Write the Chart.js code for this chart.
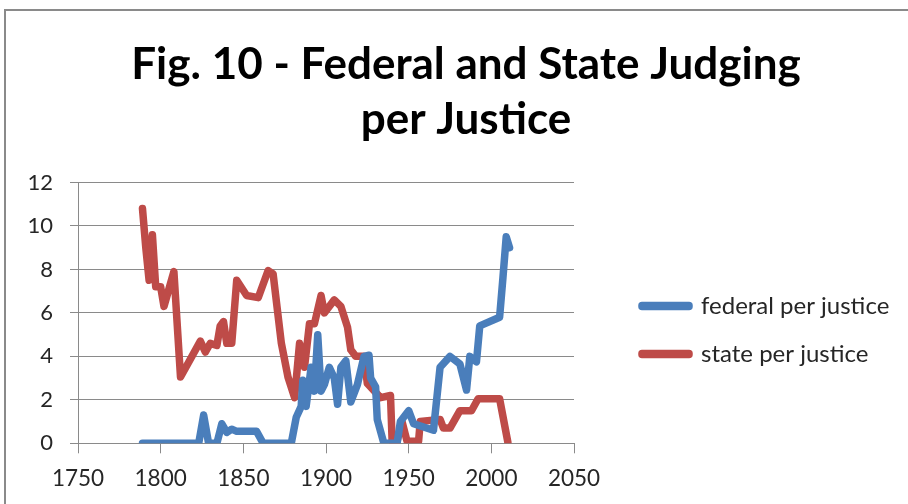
<!DOCTYPE html>
<html>
<head>
<meta charset="utf-8">
<script src="https://cdn.jsdelivr.net/npm/chart.js@4.4.1/dist/chart.umd.min.js"></script>
<style>
  body { margin: 0; overflow: hidden; background: #fff; }
  #box { position: absolute; left: 4px; top: 9px; width: 940px; height: 520px; border: 2px solid #8a8a8a; }
  #myChart { position: absolute; left: 0; top: 0; }
</style>
</head>
<body>
<div id="box"><canvas id="myChart" width="920" height="493"></canvas></div>
<script>
// values
const federalYears = [1789, 1823, 1826, 1829, 1834, 1837, 1840, 1843, 1846, 1858, 1862, 1879, 1882, 1885, 1886, 1888, 1891, 1893, 1895, 1897, 1899, 1902, 1905, 1907, 1909, 1912, 1915, 1919, 1923, 1926, 1927, 1930, 1931, 1935, 1943, 1945, 1950, 1953, 1959, 1965, 1969, 1975, 1981, 1985, 1987, 1991, 1993, 2005, 2007, 2009, 2011]
const federalValues = [0, 0, 1.3, 0, 0, 0.9, 0.5, 0.65, 0.55, 0.55, 0, 0, 1.2, 1.7, 2.9, 1.7, 3.5, 2.4, 5.0, 2.4, 2.7, 3.5, 3.0, 1.8, 3.5, 3.8, 1.9, 2.7, 4.0, 4.05, 3.0, 2.6, 1.1, 0, 0, 1.0, 1.5, 0.9, 0.75, 0.6, 3.5, 4.0, 3.65, 2.45, 4.0, 3.75, 5.4, 5.8, 7.6, 9.5, 9.0]

const stateYears = [1789, 1791, 1793, 1795, 1797, 1800, 1802, 1808, 1812, 1824, 1827, 1830, 1834, 1836, 1838, 1840, 1843, 1846, 1852, 1859, 1865, 1868, 1873, 1877, 1881, 1884, 1887, 1890, 1893, 1897, 1899, 1905, 1909, 1913, 1915, 1918, 1923, 1925, 1933, 1939, 1940, 1943, 1946, 1949, 1956, 1957, 1969, 1971, 1975, 1981, 1988, 1992, 2005, 2010]
const stateValues = [10.8, 9.0, 7.5, 9.6, 7.2, 7.2, 6.3, 7.9, 3.05, 4.7, 4.2, 4.6, 4.5, 5.4, 5.6, 4.6, 4.6, 7.5, 6.8, 6.7, 7.95, 7.8, 4.6, 3.05, 2.1, 4.6, 3.5, 5.5, 5.5, 6.8, 6.0, 6.6, 6.3, 5.35, 4.3, 4.0, 4.0, 2.75, 2.1, 2.2, 0.1, 0.1, 1.0, 0.1, 0.1, 1.0, 1.1, 0.7, 0.7, 1.5, 1.5, 2.05, 2.05, 0.05]

const xTicks = [1750, 1800, 1850, 1900, 1950, 2000, 2050]
const yTicks = [0, 2, 4, 6, 8, 10, 12]

const seriesNames = ['federal per justice', 'state per justice']

const toPoints = (xs, ys) => xs.map((x, i) => ({x: x, y: ys[i]}))

const gridGray = '#8a8a8a'
const textColor = '#262626'

// put the legend where the original has it, and center the title on the whole box
const legendSpot = {
    id: 'legendSpot',
    afterLayout(chart) {
        const lg = chart.legend
        lg.left = 612
        lg.right = chart.width
        lg.width = lg.right - lg.left
        lg.top = 259
        lg.bottom = lg.top + 200
        lg.height = 200

        const tb = chart.titleBlock
        tb.left = 0
        tb.right = chart.width
        tb.width = chart.width
    }
}

const ctx = document.getElementById('myChart').getContext('2d')

const myChart = new Chart(ctx, {
    type: 'line',
    data: {
        datasets: [
            {
                label: seriesNames[0],
                data: toPoints(federalYears, federalValues),
                borderColor: '#4a7ebb',
                backgroundColor: '#4a7ebb',
                borderWidth: 7.5,
                borderJoinStyle: 'round',
                borderCapStyle: 'round',
                pointRadius: 0,
                tension: 0,
                fill: false
            },
            {
                label: seriesNames[1],
                data: toPoints(stateYears, stateValues),
                borderColor: '#be4b48',
                backgroundColor: '#be4b48',
                borderWidth: 7.5,
                borderJoinStyle: 'round',
                borderCapStyle: 'round',
                pointRadius: 0,
                tension: 0,
                fill: false
            }
        ]
    },
    plugins: [legendSpot],
    options: {
        responsive: false,
        animation: false,
        devicePixelRatio: 1,
        layout: { padding: { left: 0, right: 112, top: 0, bottom: 0 } },
        scales: {
            x: {
                type: 'linear',
                min: xTicks[0],
                max: xTicks[xTicks.length - 1],
                afterBuildTicks: s => { s.ticks = xTicks.map(v => ({value: v})) },
                afterFit: s => { s.height = 60.7 },
                grid: { drawOnChartArea: false, drawTicks: true, tickLength: 10, color: gridGray },
                border: { display: true, color: gridGray },
                ticks: {
                    padding: 12,
                    maxRotation: 0,
                    color: textColor,
                    font: { family: 'Lato', size: 22.5 },
                    callback: v => String(v)
                }
            },
            y: {
                min: yTicks[0],
                max: yTicks[yTicks.length - 1],
                afterBuildTicks: s => { s.ticks = yTicks.map(v => ({value: v})) },
                afterFit: s => { s.width = 72 },
                grid: { drawTicks: true, tickLength: 8, color: gridGray },
                border: { display: true, color: gridGray },
                ticks: {
                    padding: 17,
                    color: textColor,
                    font: { family: 'Lato', size: 22 },
                    callback: v => String(v)
                }
            }
        },
        plugins: {
            title: {
                display: true,
                text: ['Fig. 10 - Federal and State Judging', 'per Justice'],
                color: '#000',
                font: { family: 'Lato', size: 44, weight: 'bold', lineHeight: 1.25 },
                padding: { top: 26.5, bottom: 35 }
            },
            legend: {
                display: true,
                position: 'right',
                align: 'start',
                maxWidth: 240,
                labels: {
                    boxWidth: 47,
                    boxHeight: 1,
                    padding: 24,
                    color: textColor,
                    font: { family: 'Lato', size: 24 }
                }
            },
            tooltip: { enabled: false }
        }
    }
})
</script>
</body>
</html>
